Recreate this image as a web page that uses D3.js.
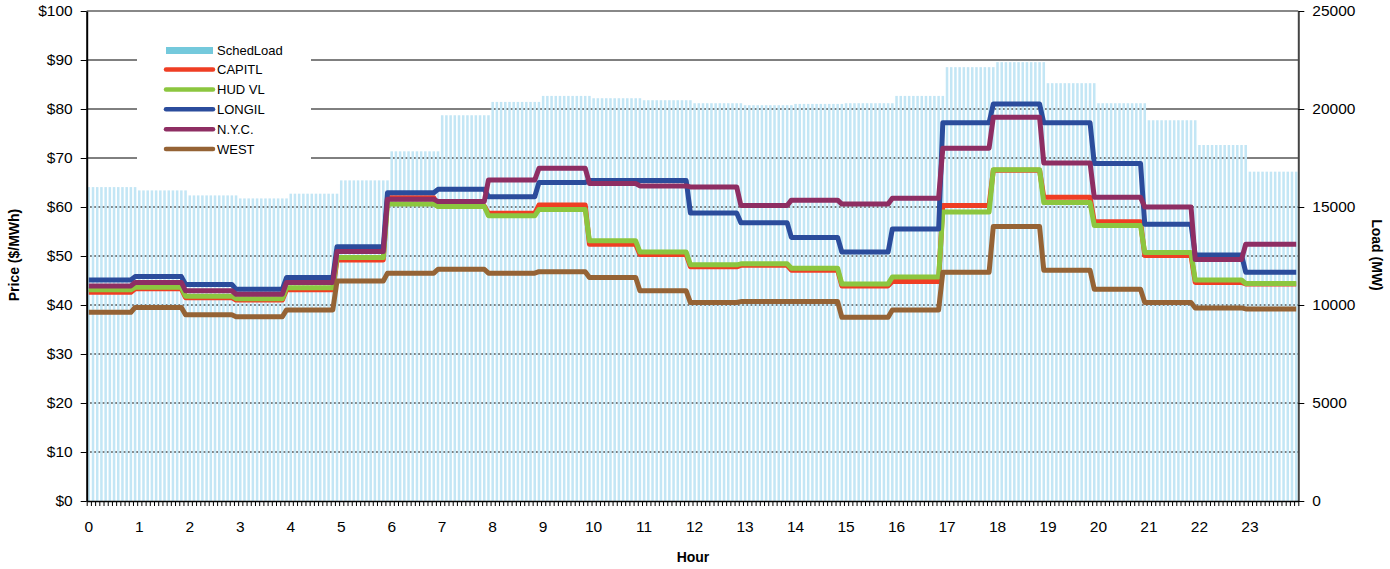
<!DOCTYPE html>
<html>
<head>
<meta charset="utf-8">
<script src="https://cdn.jsdelivr.net/npm/d3@7"></script>
<style>
  html, body { margin: 0; padding: 0; background: #fff; }
  svg { display: block; font-family: "Liberation Sans", Arial, sans-serif; }
</style>
</head>
<body>
<svg id="chart" width="1390" height="569"></svg>
<script>
// ---------------- data ----------------
const hourLabels = ["0","1","2","3","4","5","6","7","8","9","10","11","12","13","14","15","16","17","18","19","20","21","22","23"];
const intervalsPerHour = 12; // 5-minute intervals

const schedLoad = [16016,15847,15592,15438,15679,16358,17841,19681,20361,20668,20550,20448,20295,20194,20259,20295,20668,22135,22391,21317,20295,19426,18163,16803];

const capitl = [42.6,43.3,41.5,41.0,43.1,49.2,61.9,60.2,58.7,60.4,52.4,50.3,47.8,48.1,47.1,43.9,44.8,60.3,67.5,62.0,57.0,50.1,44.6,44.3];
const hudvl  = [43.1,43.6,41.8,41.3,43.5,49.7,60.6,60.1,58.2,59.5,53.1,50.8,48.2,48.4,47.5,44.3,45.7,59.0,67.6,60.9,56.2,50.7,45.1,44.4];
const longil = [45.1,45.8,44.2,43.2,45.6,51.9,62.9,63.6,62.1,65.0,65.4,65.4,58.8,56.8,53.8,50.8,55.5,77.2,81.0,77.2,68.9,56.5,50.2,46.7];
const nyc    = [43.9,44.6,42.9,42.2,44.6,50.9,61.6,61.1,65.5,67.9,64.8,64.3,64.1,60.3,61.4,60.6,61.8,72.0,78.3,69.0,62.0,60.0,49.3,52.4];
const west   = [38.5,39.5,38.0,37.6,39.0,44.9,46.5,47.3,46.5,46.8,45.6,42.9,40.5,40.7,40.7,37.5,39.0,46.7,56.0,47.1,43.2,40.5,39.4,39.2];

const seriesNames  = ["CAPITL","HUD VL","LONGIL","N.Y.C.","WEST"];
const seriesValues = [capitl, hudvl, longil, nyc, west];
const seriesColors = ["#ef3e24","#8cc63f","#2b4c9c","#8e2e63","#956335"];

const priceTicks = [0,10,20,30,40,50,60,70,80,90,100];
const loadTicks  = [0,5000,10000,15000,20000,25000];

// ---------------- layout ----------------
const L = 86.7, R = 1298.3, T = 11, B = 501;
const nInt = hourLabels.length * intervalsPerHour;
const svg = d3.select("#chart");

const x = d3.scaleLinear().domain([0, nInt]).range([L, R]);
const yP = d3.scaleLinear().domain([0, 100]).range([B, T]);
const yL = d3.scaleLinear().domain([0, 25000]).range([B, T]);
const bw = (R - L) / nInt;

const intervals = d3.range(nInt).map(i => ({ i, hour: Math.floor(i / intervalsPerHour) }));

// gridlines
svg.append("g").selectAll("line").data(priceTicks.filter(d => d > 0 && d < 100)).join("line")
  .attr("x1", L).attr("x2", R).attr("y1", d => yP(d)).attr("y2", d => yP(d))
  .attr("stroke", "#000").attr("stroke-width", 1);

// bars
svg.append("g").selectAll("rect").data(intervals).join("rect")
  .attr("x", d => x(d.i) + bw * 0.2)
  .attr("width", bw * 0.6)
  .attr("y", d => yL(schedLoad[d.hour]))
  .attr("height", d => B - yL(schedLoad[d.hour]))
  .attr("fill", "#c3e6f5");

// lines
const ptHour = i => Math.min(hourLabels.length - 1, Math.floor((i + 1) / intervalsPerHour));
const lineGen = vals => d3.line()
  .x(d => x(d.i + 0.5))
  .y(d => yP(vals[ptHour(d.i)]))(intervals);

seriesValues.forEach((vals, k) => {
  svg.append("path").attr("d", lineGen(vals))
    .attr("fill", "none").attr("stroke", seriesColors[k])
    .attr("stroke-width", 5).attr("stroke-linejoin", "round").attr("stroke-linecap", "butt");
});

// top border
svg.append("line").attr("x1", L).attr("x2", R).attr("y1", T).attr("y2", T)
  .attr("stroke", "#888").attr("stroke-width", 2);

// axes
const fontSize = "15.5px";
const gL = svg.append("g").attr("transform", `translate(${L},0)`)
  .call(d3.axisLeft(yP).tickValues(priceTicks).tickFormat(d => "$" + d).tickSize(6).tickSizeOuter(0).tickPadding(8));
gL.select(".domain").attr("stroke", "#000").attr("stroke-width", 2);
gL.selectAll("text").attr("font-size", fontSize).attr("fill", "#000").attr("font-family", "Liberation Sans, Arial");

const gR = svg.append("g").attr("transform", `translate(${R},0)`)
  .call(d3.axisRight(yL).tickValues(loadTicks).tickFormat(d => d).tickSize(6).tickSizeOuter(0).tickPadding(8));
gR.select(".domain").attr("stroke", "#444").attr("stroke-width", 2);
gR.selectAll("text").attr("font-size", fontSize).attr("fill", "#000").attr("font-family", "Liberation Sans, Arial");

const gB = svg.append("g").attr("transform", `translate(0,${B})`)
  .call(d3.axisBottom(x).tickValues(d3.range(0, nInt + 1)).tickFormat("").tickSize(5).tickSizeOuter(0));
gB.select(".domain").attr("stroke", "#000").attr("stroke-width", 1.5);
gB.selectAll(".tick line").attr("stroke", "#000").attr("stroke-width", 1);

svg.append("g").selectAll("text").data(hourLabels).join("text")
  .attr("x", (d, h) => x(h * intervalsPerHour + 0.5))
  .attr("y", 532)
  .attr("text-anchor", "middle")
  .attr("font-size", fontSize)
  .text(d => d);

// axis titles
svg.append("text").attr("transform", "translate(19,255) rotate(-90)")
  .attr("text-anchor", "middle").attr("font-weight", "bold").attr("font-size", "14px").text("Price ($/MWh)");
svg.append("text").attr("transform", "translate(1372,255) rotate(90)")
  .attr("text-anchor", "middle").attr("font-weight", "bold").attr("font-size", "14px").text("Load (MW)");
svg.append("text").attr("x", 693).attr("y", 562)
  .attr("text-anchor", "middle").attr("font-weight", "bold").attr("font-size", "14px").text("Hour");

// legend
const lg = svg.append("g");
lg.append("rect").attr("x", 137).attr("y", 24).attr("width", 174).attr("height", 142).attr("fill", "#fff");
lg.append("rect").attr("x", 166).attr("y", 47).attr("width", 47).attr("height", 7).attr("fill", "#74c9dc");
lg.append("text").attr("x", 217).attr("y", 55).attr("font-size", "13px").text("SchedLoad");
seriesNames.forEach((name, k) => {
  const yy = 69.5 + k * 19.9;
  lg.append("line").attr("x1", 166).attr("x2", 213).attr("y1", yy).attr("y2", yy)
    .attr("stroke", seriesColors[k]).attr("stroke-width", 4.5).attr("stroke-linecap", "round");
  lg.append("text").attr("x", 217).attr("y", yy + 4.5).attr("font-size", "13px").text(name);
});
</script>
</body>
</html>
